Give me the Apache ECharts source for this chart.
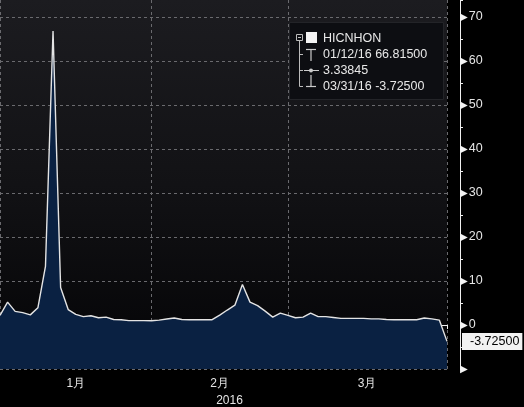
<!DOCTYPE html>
<html>
<head>
<meta charset="utf-8">
<script src="https://cdn.jsdelivr.net/npm/echarts@6/dist/echarts.min.js"></script>
<style>html,body{margin:0;padding:0;background:#000;}#c{width:524px;height:407px;}</style>
</head>
<body>
<div id="c"></div>
<script>
var dates = [
  '2015-12-31',
  '2016-01-04','2016-01-05','2016-01-06','2016-01-07','2016-01-08',
  '2016-01-11','2016-01-12','2016-01-13','2016-01-14','2016-01-15',
  '2016-01-18','2016-01-19','2016-01-20','2016-01-21','2016-01-22',
  '2016-01-25','2016-01-26','2016-01-27','2016-01-28','2016-01-29',
  '2016-02-01','2016-02-02','2016-02-03','2016-02-04','2016-02-05',
  '2016-02-11','2016-02-12',
  '2016-02-15','2016-02-16','2016-02-17','2016-02-18','2016-02-19',
  '2016-02-22','2016-02-23','2016-02-24','2016-02-25','2016-02-26',
  '2016-02-29',
  '2016-03-01','2016-03-02','2016-03-03','2016-03-04',
  '2016-03-07','2016-03-08','2016-03-09','2016-03-10','2016-03-11',
  '2016-03-14','2016-03-15','2016-03-16','2016-03-17','2016-03-18',
  '2016-03-21','2016-03-22','2016-03-23','2016-03-24',
  '2016-03-29','2016-03-30','2016-03-31'
];
var values = [
  2.2, 5.2, 3.1, 2.8, 2.3, 3.9, 13.3, 66.815, 8.5, 3.5,
  2.4, 1.9, 2.1, 1.65, 1.8, 1.25, 1.2, 1.0, 1.0, 1.0, 0.95,
  1.1, 1.35, 1.6, 1.25, 1.2, 1.2, 1.2, 1.2, 2.25, 3.4, 4.5,
  9.2, 5.2, 4.4, 3.15, 1.8, 2.7, 2.2,
  1.65, 1.8, 2.7, 1.9, 1.9, 1.7, 1.5, 1.5, 1.5, 1.5, 1.4, 1.4,
  1.25, 1.2, 1.2, 1.2, 1.2, 1.6, 1.4, 1.1, -3.725
];
var monthTicks = [0, 20, 38, 59];
var monthLabels = {10: '1月', 29: '2月', 48: '3月'};
var yTicks = [-10, 0, 10, 20, 30, 40, 50, 60, 70];
var yMin = -10;
var yMax = 73.86;
var seriesName = 'HICNHON';
var statHigh = '01/12/16 66.81500';
var statAvg = '3.33845';
var statLow = '03/31/16 -3.72500';
var lastLabel = '-3.72500';

var FONT = '"Liberation Sans", Arial, sans-serif';
var TXT = '#e4e4e4';
var chart = echarts.init(document.getElementById('c'), null, {renderer: 'canvas'});

var legendColor = '#e8e8e8';
var graphics = [
  {type: 'rect', shape: {x: 289.5, y: 22.5, width: 154, height: 77}, style: {fill: '#0d0e12', stroke: '#232428', lineWidth: 1}, z: 100},
  {type: 'rect', shape: {x: 296.5, y: 34.5, width: 6, height: 6}, style: {fill: 'none', stroke: '#bbbbbb', lineWidth: 1}, z: 101},
  {type: 'line', shape: {x1: 298, y1: 37.5, x2: 301, y2: 37.5}, style: {stroke: '#bbbbbb', lineWidth: 1}, z: 101},
  {type: 'rect', shape: {x: 306, y: 32, width: 11, height: 11}, style: {fill: '#f4f4f4'}, z: 101},
  {type: 'line', shape: {x1: 299.5, y1: 41, x2: 299.5, y2: 86.5}, style: {stroke: '#bbbbbb', lineWidth: 1}, z: 101},
  {type: 'line', shape: {x1: 299.5, y1: 54.5, x2: 303, y2: 54.5}, style: {stroke: '#bbbbbb', lineWidth: 1}, z: 101},
  {type: 'line', shape: {x1: 299.5, y1: 70.5, x2: 303, y2: 70.5}, style: {stroke: '#bbbbbb', lineWidth: 1}, z: 101},
  {type: 'line', shape: {x1: 299.5, y1: 86.5, x2: 303, y2: 86.5}, style: {stroke: '#bbbbbb', lineWidth: 1}, z: 101},
  {type: 'line', shape: {x1: 306, y1: 49.5, x2: 316, y2: 49.5}, style: {stroke: '#cccccc', lineWidth: 1.2}, z: 101},
  {type: 'line', shape: {x1: 311, y1: 49.5, x2: 311, y2: 61}, style: {stroke: '#cccccc', lineWidth: 1.2}, z: 101},
  {type: 'line', shape: {x1: 304, y1: 70.5, x2: 319, y2: 70.5}, style: {stroke: '#cccccc', lineWidth: 1}, z: 101},
  {type: 'circle', shape: {cx: 311, cy: 70.5, r: 2}, style: {fill: '#cccccc'}, z: 101},
  {type: 'line', shape: {x1: 311, y1: 75, x2: 311, y2: 86.5}, style: {stroke: '#cccccc', lineWidth: 1.2}, z: 101},
  {type: 'line', shape: {x1: 306, y1: 86.5, x2: 316, y2: 86.5}, style: {stroke: '#cccccc', lineWidth: 1.2}, z: 101},
  {type: 'text', left: 323, top: 32, style: {text: seriesName, fill: legendColor, font: '12.5px ' + FONT}, z: 101},
  {type: 'text', left: 323, top: 48.5, style: {text: statHigh, fill: legendColor, font: '12.5px ' + FONT}, z: 101},
  {type: 'text', left: 323, top: 64.5, style: {text: statAvg, fill: legendColor, font: '12.5px ' + FONT}, z: 101},
  {type: 'text', left: 323, top: 80.5, style: {text: statLow, fill: legendColor, font: '12.5px ' + FONT}, z: 101}
];

var option = {
  backgroundColor: '#000',
  animation: false,
  textStyle: {fontFamily: FONT},
  grid: {
    left: 0, right: 77, top: 0, bottom: 38,
    containLabel: false,
    outerBoundsMode: 'none',
    show: true, borderWidth: 0,
    backgroundColor: {type: 'linear', x: 0, y: 0, x2: 0, y2: 1, colorStops: [
      {offset: 0, color: '#1c1c20'}, {offset: 0.5, color: '#121215'}, {offset: 1, color: '#040406'}
    ]}
  },
  xAxis: {
    type: 'category',
    data: dates,
    boundaryGap: false,
    offset: 3,
    axisLine: {show: true, lineStyle: {color: '#f0f0f0', width: 1}},
    axisTick: {show: true, length: 4, lineStyle: {color: '#f0f0f0'},
      interval: function (i) { return monthTicks.indexOf(i) >= 0; }},
    axisLabel: {
      interval: function (i) { return monthLabels[i] !== undefined; },
      formatter: function (v, i) { return monthLabels[i] === '3月' ? '{s|3月}' : monthLabels[i]; },
      color: TXT, fontSize: 12, margin: 6, fontFamily: FONT,
      rich: {s: {color: TXT, fontSize: 12, fontFamily: FONT, padding: [0, 0, 0, 7]}}
    },
    splitLine: {show: true, interval: function (i) { return monthTicks.indexOf(i) >= 0; },
      lineStyle: {color: '#6a6a6e', type: [3, 3], width: 1}},
    name: '2016', nameLocation: 'middle', nameGap: 18,
    nameTextStyle: {color: TXT, fontSize: 12, fontFamily: FONT, padding: [0, 0, 0, 12]}
  },
  yAxis: [{
    type: 'value',
    position: 'right',
    offset: 13,
    min: yMin, max: yMax, interval: 10,
    axisLine: {show: true, lineStyle: {color: '#f0f0f0', width: 1}},
    axisTick: {show: false},
    axisLabel: {
      margin: 0,
      showMaxLabel: false,
      formatter: function (v) {
        if (yTicks.indexOf(v) < 0) return '';
        return '{a|▶}{b|' + (v === -10 ? '' : v) + '}';
      },
      rich: {
        a: {color: '#f4f4f4', fontSize: 10, fontFamily: 'DejaVu Sans', padding: [0, 1, 0, 0]},
        b: {color: TXT, fontSize: 12.5, fontFamily: FONT}
      }
    },
    splitLine: {show: true, showMaxLine: false, lineStyle: {color: '#6a6a6e', type: [3, 3], width: 1}},
    axisPointer: {
      show: true, status: 'show', value: values[values.length - 1], snap: false, triggerTooltip: false,
      lineStyle: {opacity: 0},
      label: {show: true, formatter: function () { return lastLabel; },
        backgroundColor: '#f2f2f2', color: '#000', fontSize: 12.5, fontFamily: FONT,
        padding: [2, 3, 2, 8], margin: 2, borderRadius: 0}
    }
  }, {
    type: 'value',
    position: 'right',
    offset: 13,
    min: yMin, max: yMax, interval: 5,
    axisLine: {show: false},
    axisTick: {show: true, length: 3, lineStyle: {color: '#f0f0f0'}},
    axisLabel: {show: false},
    splitLine: {show: false}
  }],
  series: [{
    name: seriesName,
    type: 'line',
    data: values,
    symbol: 'none',
    lineStyle: {color: '#e4e4e4', width: 1.4},
    areaStyle: {origin: 'start', color: '#0a2142', opacity: 1}
  }],
  graphic: graphics
};
chart.setOption(option);
</script>
</body>
</html>
